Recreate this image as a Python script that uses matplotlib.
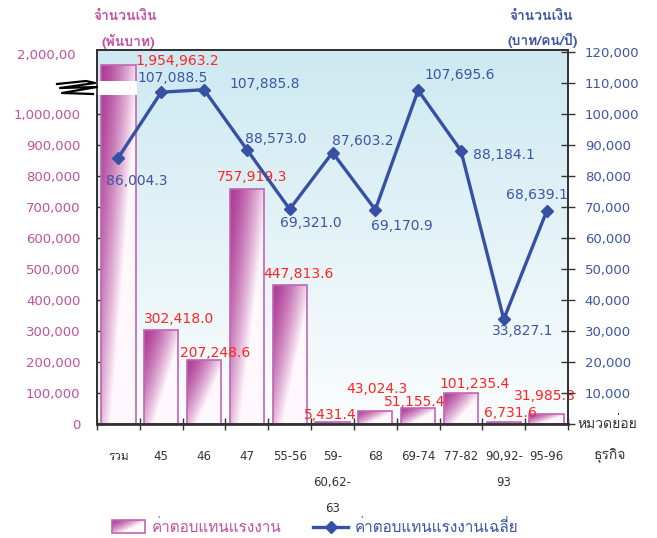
import numpy as np
import matplotlib
matplotlib.use('Agg')
import matplotlib.pyplot as plt
from matplotlib import font_manager
from matplotlib.ft2font import FT2Font
from matplotlib.patches import Rectangle
from matplotlib.lines import Line2D
from matplotlib.ticker import FixedLocator, FuncFormatter

# data
categories = ['รวม', '45', '46', '47', '55-56', '59-\n60,62-\n63', '68',
              '69-74', '77-82', '90,92-\n93', '95-96']
pay_total = [1954963.2, 302418.0, 207248.6, 757919.3, 447813.6, 5431.4,
             43024.3, 51155.4, 101235.4, 6731.6, 31985.8]
pay_avg = [86004.3, 107088.5, 107885.8, 88573.0, 69321.0, 87603.2,
           69170.9, 107695.6, 88184.1, 33827.1, 68639.1]
left_ticks = list(range(0, 1000001, 100000))
right_ticks = list(range(0, 120001, 10000))

# label offsets in pixels (dx, dy) from bar top / point
bar_lbl_off = [(59, 4), (18, 11), (11, 7), (5, 12), (9, 11), (-2, 7),
               (2, 22), (-3, 6), (14, 9), (7, 9), (-2, 18)]
avg_lbl_off = [(18, -23), (11, 14), (61, 6), (29, 11), (21, -14), (30, 12),
               (27, -16), (42, 15), (43, -4), (19, -12), (-10, 16)]

MAGENTA = '#c2519f'
BLUE = '#3c55a6'
LINE_BLUE = '#3651a3'
RED = '#ff2424'
DARK = '#333333'
BREAK_TOP = 1160000  # bar "รวม" is drawn cut off at this height


def find_thai_font():
    for f in font_manager.fontManager.ttflist:
        try:
            cmap = FT2Font(f.fname).get_charmap()
        except Exception:
            continue
        if 0x0E08 in cmap and 0x0E33 in cmap:
            return f.name
    return 'DejaVu Sans'


THAI = [find_thai_font(), 'DejaVu Sans']
MIXED = ['DejaVu Sans', THAI[0]]
plt.rcParams['font.family'] = ['DejaVu Sans']

W, H = 657, 538
fig = plt.figure(figsize=(W / 100, H / 100), dpi=100)
ax = fig.add_axes([97 / W, 1 - 424 / H, (568 - 97) / W, (424 - 50) / H])
ax2 = ax.twinx()

x = np.arange(len(categories))

# background gradient
grad = np.linspace(0, 1, 256)[:, None]
top_c = np.array([205, 233, 241]) / 255
bot_c = np.array([251, 253, 254]) / 255
bg = top_c[None, None, :] * (1 - grad[:, :, None]) + bot_c[None, None, :] * grad[:, :, None]
ax.imshow(bg, extent=[0, 1, 0, 1], transform=ax.transAxes, aspect='auto', zorder=0)

# bars with gradient fill
heights = [min(v, BREAK_TOP) for v in pay_total]
bars = ax.bar(x, heights, width=0.8, facecolor='none', edgecolor='#c065b3',
              linewidth=1.2, zorder=3)
u = np.linspace(0, 1, 160)[None, :]
v = np.linspace(0, 1, 160)[:, None]
t = np.clip(u * 0.9 + v * 0.75, 0, 1) ** 1.5
dark = np.array([174, 60, 150]) / 255
light = np.array([255, 248, 252]) / 255
bar_img = dark[None, None, :] * (1 - t[:, :, None]) + light[None, None, :] * t[:, :, None]
for b in bars:
    bx, by = b.get_x(), b.get_y()
    bw, bh = b.get_width(), b.get_height()
    im = ax.imshow(bar_img, extent=[bx, bx + bw, by, by + bh], aspect='auto',
                   zorder=2, interpolation='bilinear')
    im.set_clip_path(b)

ax.set_xlim(-0.5, len(categories) - 0.5)
ax.set_ylim(0, 1207000)

# broken-axis mark on "รวม"
ax.add_patch(Rectangle((-0.56, 1061000), 1.0, 47000, facecolor='white',
                       edgecolor='none', zorder=6, clip_on=False))
zz = [(57, 84), (86, 81), (95, 83), (60, 88), (97, 87), (62, 93), (93, 94)]
fig.add_artist(Line2D([p[0] / W for p in zz], [1 - p[1] / H for p in zz],
                      color='black', linewidth=1.6, transform=fig.transFigure))

# average line
ax2.plot(x, pay_avg, color=LINE_BLUE, linewidth=2.4, marker='D',
         markersize=6, zorder=5)
ax2.set_ylim(0, 120700)

# value labels
for i, val in enumerate(pay_total):
    dx, dy = bar_lbl_off[i]
    ax.annotate(f'{val:,.1f}', (x[i], heights[i]), xytext=(dx, dy),
                textcoords='offset pixels', ha='center', va='center',
                color=RED, fontsize=10, zorder=7, annotation_clip=False)
for i, val in enumerate(pay_avg):
    dx, dy = avg_lbl_off[i]
    ax2.annotate(f'{val:,.1f}', (x[i], val), xytext=(dx, dy),
                 textcoords='offset pixels', ha='center', va='center',
                 color=BLUE, fontsize=10, zorder=7)

# axes styling
for a in (ax, ax2):
    for s in a.spines.values():
        s.set_color(DARK)
        s.set_linewidth(1.3)
ax.spines['bottom'].set_linewidth(2)

ax.yaxis.set_major_locator(FixedLocator(left_ticks))
ax.yaxis.set_major_formatter(FuncFormatter(lambda val, p: f'{val:,.0f}'))
ax.tick_params(axis='y', direction='in', length=5, width=1, colors=DARK,
               labelcolor=MAGENTA, labelsize=9.5, pad=12)
ax2.yaxis.set_major_locator(FixedLocator(right_ticks))
ax2.yaxis.set_major_formatter(FuncFormatter(lambda val, p: '' if val == 0 else f'{val:,.0f}'))
ax2.tick_params(axis='y', direction='inout', length=10, width=1, colors=DARK,
                labelcolor=BLUE, labelsize=9.5, pad=7)

ax.set_xticks(x)
ax.set_xticklabels(categories, linespacing=2.3, family=MIXED)
ax.set_xticks(np.arange(-0.5, len(categories)), minor=True)
ax.tick_params(axis='x', which='major', length=0, labelsize=8.5, labelcolor=DARK, pad=19)
ax.tick_params(axis='x', which='minor', direction='inout', length=8, width=1, colors=DARK)
for lbl in ax.get_xticklabels():
    lbl.set_verticalalignment('top')

# texts outside the plot
ax.text(-0.045, 1190000, '2,000,00', transform=ax.get_yaxis_transform(),
        ha='right', va='center', fontsize=9.5, color=MAGENTA)
ax.text(1.02, 0, 'หมวดย่อย', transform=ax.transAxes, ha='left', va='center',
        fontsize=10, color=DARK, family=THAI)
fig.text(610 / W, 1 - 456 / H, 'ธุรกิจ', ha='center', va='center',
         fontsize=10, color=DARK, family=THAI)
fig.text(125 / W, 1 - 17 / H, 'จำนวนเงิน', ha='center', va='center',
         fontsize=10, color=MAGENTA, family=THAI, fontweight='bold')
fig.text(128 / W, 1 - 41 / H, '(พันบาท)', ha='center', va='center',
         fontsize=10, color=MAGENTA, family=THAI, fontweight='bold')
fig.text(541 / W, 1 - 17 / H, 'จำนวนเงิน', ha='center', va='center',
         fontsize=10, color=BLUE, family=THAI, fontweight='bold')
fig.text(543 / W, 1 - 40 / H, '(บาท/คน/ปี)', ha='center', va='center',
         fontsize=10, color=BLUE, family=THAI, fontweight='bold')

# legend
lax = fig.add_axes([0, 0, 1, 1], facecolor='none')
lax.axis('off')
lx0, lx1, ly0, ly1 = 112, 145, 520, 533
lax.imshow(bar_img, extent=[lx0, lx1, ly1, ly0], aspect='auto',
           interpolation='bilinear')
lax.add_patch(Rectangle((lx0, ly0), lx1 - lx0, ly1 - ly0, facecolor='none',
                        edgecolor='#c065b3', linewidth=1.2))
lax.text(152, 527, 'ค่าตอบแทนแรงงาน', ha='left', va='center', fontsize=11,
         color=MAGENTA, family=THAI)
lax.plot([313, 348], [527, 527], color=LINE_BLUE, linewidth=2.4)
lax.plot([331], [527], color=LINE_BLUE, marker='D', markersize=6)
lax.text(355, 527, 'ค่าตอบแทนแรงงานเฉลี่ย', ha='left', va='center', fontsize=11,
         color=BLUE, family=THAI)
lax.set_xlim(0, W)
lax.set_ylim(H, 0)

fig.savefig('out.png', dpi=100)
